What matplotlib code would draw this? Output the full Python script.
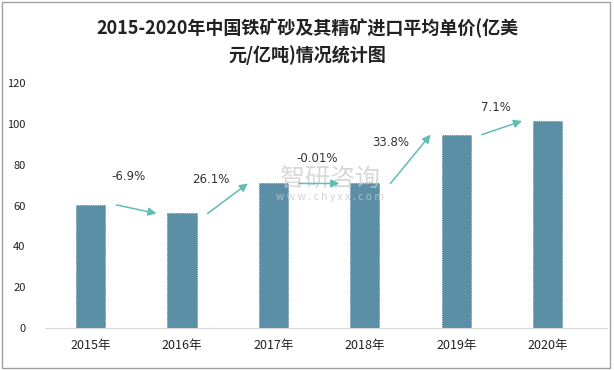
import matplotlib.pyplot as plt
from matplotlib.patches import Rectangle

plt.rcParams['font.family'] = ['Noto Sans CJK SC', 'DejaVu Sans']

years = ["2015年", "2016年", "2017年", "2018年", "2019年", "2020年"]
prices = [60.3, 56.1, 70.8, 70.8, 94.7, 101.4]
growth = ["-6.9%", "26.1%", "-0.01%", "33.8%", "7.1%"]
# label offsets (x in categories, y in data units) relative to arrow midpoint
label_dx = [-0.09, -0.19, -0.02, -0.22, -0.06]
label_dy = [13, 6, 9, 5, 7]

fig = plt.figure(figsize=(6.14, 3.70), dpi=100)
ax = fig.add_axes([45 / 614, 42 / 370, 562 / 614, 245 / 370])

x = list(range(len(years)))
ax.bar(x, prices, width=0.32, color="#5B8FA6", edgecolor="#4A7A90",
       linewidth=0.6, linestyle=":", zorder=2)

for i in range(len(growth)):
    x0, y0 = i + 0.28, prices[i]
    x1, y1 = i + 0.72, prices[i + 1]
    ax.annotate("", xy=(x1, y1), xytext=(x0, y0),
                arrowprops=dict(arrowstyle="-|>", color="#5FBDB4", lw=1.1,
                                mutation_scale=12, shrinkA=0, shrinkB=0),
                zorder=4)
    ax.text((x0 + x1) / 2 + label_dx[i], (y0 + y1) / 2 + label_dy[i],
            growth[i], ha="center", va="bottom", fontsize=8.5, color="#333333",
            family=["DejaVu Sans"])

# watermark
ax.text(2.62, 73, "智研咨询", fontsize=18, color="#C8C8C8", alpha=0.7,
        ha="center", va="center", zorder=3)
ax.text(2.62, 64, "w w w . c h y x x . c o m", fontsize=7.5, color="#C8C8C8",
        alpha=0.8, ha="center", va="center", zorder=3)

ax.set_xlim(-0.5, 5.65)
ax.set_ylim(0, 120)
ax.set_yticks(range(0, 121, 20))
ax.set_xticks(x)
ax.set_xticklabels(years, fontsize=9, color="#222222")
ax.tick_params(axis="y", labelsize=8, colors="#222222", length=0, pad=14)
ax.tick_params(axis="x", length=0, pad=8)
for side in ["top", "right", "left"]:
    ax.spines[side].set_visible(False)
ax.spines["bottom"].set_color("#D9D9D9")

fig.text(0.5, 342 / 370, "2015-2020年中国铁矿砂及其精矿进口平均单价(亿美",
         ha="center", va="center", fontsize=13, fontweight="bold", color="#222222")
fig.text(0.5, 315 / 370, "元/亿吨)情况统计图",
         ha="center", va="center", fontsize=13, fontweight="bold", color="#222222")

fig.patches.append(Rectangle((0.004, 0.005), 0.99, 0.99, transform=fig.transFigure,
                             fill=False, edgecolor="#A0A0A0", linewidth=1))

fig.savefig("out.png", dpi=100)
